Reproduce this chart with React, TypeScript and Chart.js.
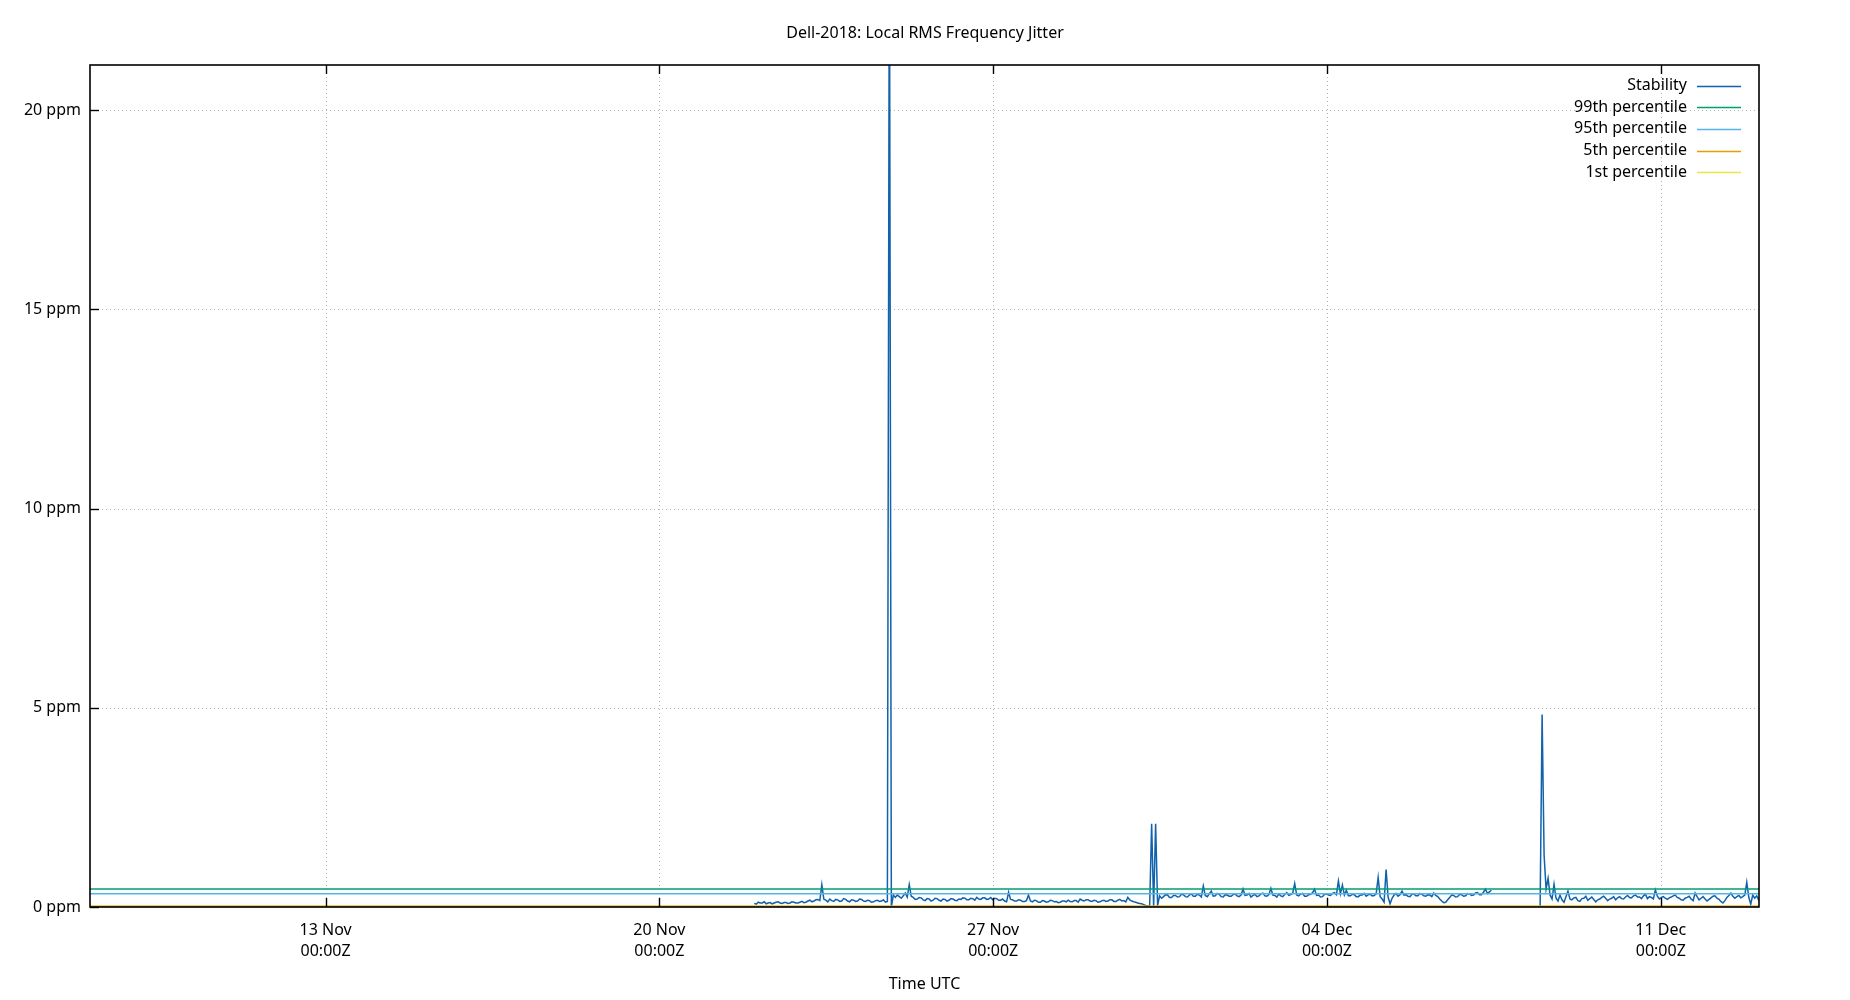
import React, { useEffect, useRef } from "react";
import { Chart, registerables } from "chart.js";

Chart.register(...registerables);

// ---------- data ----------
const DAY_MS = 86400000;
const ORIGIN_MS = Date.UTC(2018, 9, 31); // day 0 = 31 Oct 2018 00:00Z, so day 13 = 13 Nov
const toMs = (d: number) => ORIGIN_MS + d * DAY_MS;

const CHART_TITLE = "Dell-2018: Local RMS Frequency Jitter";
const X_TITLE = "Time UTC";
const MONTHS = ["Jan", "Feb", "Mar", "Apr", "May", "Jun", "Jul", "Aug", "Sep", "Oct", "Nov", "Dec"];

const X_MIN_DAY = 8.06;
const X_MAX_DAY = 43.06;
const X_TICK_DAYS = [13, 20, 27, 34, 41];
const Y_TICKS = [0, 5, 10, 15, 20];
const Y_MAX = 21.13;

// early stretch of near-zero samples
const SEG0_DAYS = [8.06, 9.5, 11, 12.5, 14, 15.5, 17, 18.72];
const SEG0_VALUES = [0, 0, 0, 0, 0, 0, 0, 0];

const SAMPLE_STEP_DAYS = 1 / 24; // hourly samples
const SEG1_START_DAY = 21.99;
const SEG1_VALUES = [
  0.09, 0.07, 0.12, 0.1, 0.1, 0.13, 0.08, 0.1, 0.11, 0.08, 0.1, 0.12,
  0.13, 0.1, 0.09, 0.11, 0.11, 0.09, 0.1, 0.13, 0.12, 0.1, 0.1, 0.12,
  0.14, 0.11, 0.12, 0.15, 0.17, 0.13, 0.15, 0.18, 0.19, 0.16, 0.56, 0.2,
  0.17, 0.13, 0.2, 0.16, 0.14, 0.19, 0.18, 0.14, 0.15, 0.21, 0.19, 0.15,
  0.13, 0.18, 0.17, 0.14, 0.15, 0.2, 0.19, 0.15, 0.14, 0.17, 0.16, 0.12,
  0.13, 0.16, 0.17, 0.14, 0.15, 0.18, 0.12, 0.14, 25, 0.0, 0.3, 0.24,
  0.3, 0.26, 0.22, 0.28, 0.35, 0.25, 0.56, 0.27, 0.24, 0.19, 0.2, 0.24,
  0.23, 0.18, 0.16, 0.21, 0.2, 0.15, 0.17, 0.22, 0.21, 0.17, 0.15, 0.2,
  0.19, 0.15, 0.17, 0.21, 0.2, 0.17, 0.16, 0.2, 0.19, 0.23, 0.22, 0.18,
  0.18, 0.22, 0.21, 0.17, 0.24, 0.2, 0.19, 0.23, 0.23, 0.19, 0.2, 0.24,
  0.18, 0.22, 0.21, 0.17, 0.17, 0.2, 0.15, 0.13, 0.37, 0.19, 0.18, 0.15,
  0.15, 0.18, 0.17, 0.14, 0.14, 0.16, 0.3, 0.15, 0.13, 0.17, 0.16, 0.12,
  0.12, 0.16, 0.15, 0.12, 0.13, 0.17, 0.16, 0.13, 0.14, 0.11, 0.12, 0.15,
  0.15, 0.13, 0.17, 0.14, 0.13, 0.16, 0.16, 0.12, 0.2, 0.17, 0.15, 0.18,
  0.18, 0.15, 0.14, 0.17, 0.16, 0.12, 0.13, 0.16, 0.17, 0.14, 0.15, 0.18,
  0.18, 0.14, 0.14, 0.17, 0.19, 0.15, 0.16, 0.13, 0.24, 0.18, 0.15, 0.13,
  0.12, 0.1, 0.09, 0.08, 0.06, 0.04, 0.03, 0.02, 2.09, 0.0, 2.09, 0.04,
  0.28, 0.22, 0.26, 0.31, 0.3, 0.24, 0.24, 0.29, 0.29, 0.25, 0.26, 0.32,
  0.31, 0.26, 0.25, 0.3, 0.33, 0.27, 0.27, 0.32, 0.3, 0.25, 0.53, 0.29,
  0.26, 0.33, 0.4, 0.27, 0.28, 0.34, 0.32, 0.26, 0.25, 0.31, 0.3, 0.27,
  0.27, 0.31, 0.33, 0.28, 0.26, 0.3, 0.45, 0.29, 0.3, 0.34, 0.25, 0.29,
  0.32, 0.26, 0.28, 0.33, 0.35, 0.28, 0.27, 0.31, 0.47, 0.3, 0.29, 0.25,
  0.33, 0.28, 0.26, 0.32, 0.36, 0.29, 0.31, 0.35, 0.59, 0.3, 0.28, 0.33,
  0.34, 0.27, 0.27, 0.31, 0.32, 0.36, 0.45, 0.29, 0.3, 0.25, 0.26, 0.32,
  0.33, 0.3, 0.29, 0.34, 0.36, 0.31, 0.65, 0.33, 0.55, 0.3, 0.42, 0.28,
  0.28, 0.32, 0.31, 0.26, 0.26, 0.3, 0.3, 0.34, 0.27, 0.31, 0.32, 0.28,
  0.29, 0.33, 0.74, 0.26, 0.2, 0.12, 0.94, 0.25, 0.08, 0.22, 0.3, 0.34,
  0.27, 0.31, 0.4, 0.3, 0.31, 0.27, 0.26, 0.32, 0.33, 0.28, 0.28, 0.34,
  0.32, 0.28, 0.27, 0.31, 0.3, 0.26, 0.35, 0.29, 0.26, 0.2, 0.15, 0.11,
  0.12, 0.18, 0.24, 0.3, 0.29, 0.25, 0.26, 0.32, 0.31, 0.27, 0.28, 0.34,
  0.33, 0.29, 0.3, 0.35, 0.36, 0.31, 0.31, 0.37, 0.45, 0.34, 0.38, 0.42,
];

const SEG2_START_DAY = 38.47;
const SEG2_VALUES = [
  0.0, 4.83, 1.3, 0.45, 0.72, 0.3, 0.2, 0.57, 0.22, 0.15, 0.3, 0.18,
  0.12, 0.26, 0.4, 0.2, 0.18, 0.23, 0.24, 0.16, 0.14, 0.21, 0.22, 0.27,
  0.17, 0.21, 0.25, 0.19, 0.13, 0.18, 0.2, 0.24, 0.27, 0.22, 0.16, 0.2,
  0.22, 0.26, 0.18, 0.23, 0.26, 0.21, 0.2, 0.25, 0.29, 0.24, 0.23, 0.28,
  0.3, 0.25, 0.25, 0.21, 0.28, 0.32, 0.21, 0.26, 0.24, 0.2, 0.43, 0.27,
  0.2, 0.24, 0.26, 0.22, 0.19, 0.23, 0.25, 0.28, 0.3, 0.24, 0.22, 0.18,
  0.17, 0.22, 0.24, 0.27, 0.2, 0.16, 0.35, 0.26, 0.18, 0.22, 0.26, 0.2,
  0.15, 0.19, 0.23, 0.27, 0.28, 0.22, 0.19, 0.14, 0.1, 0.16, 0.24, 0.29,
  0.35, 0.27, 0.22, 0.26, 0.29, 0.23, 0.26, 0.3, 0.62, 0.25, 0.07, 0.3,
  0.22, 0.28, 0.18, 0.31,
];

const SERIES_LABELS = ["Stability", "99th percentile", "95th percentile", "5th percentile", "1st percentile"];
const SERIES_COLORS = ["#0f62ab", "#009e73", "#56b4e9", "#e69f00", "#f0e442"];
const PERCENTILE_VALUES = [0.45, 0.33, 0.02, 0.01]; // 99th, 95th, 5th, 1st

const FONT_FAMILY = "'Noto Sans', 'Open Sans', sans-serif";

// ---------- chart ----------
function buildStability() {
  const pts: { x: number; y: number | null }[] = [];
  SEG0_DAYS.forEach((d, i) => pts.push({ x: toMs(d), y: SEG0_VALUES[i] }));
  pts.push({ x: toMs(20), y: null });
  SEG1_VALUES.forEach((v, i) => pts.push({ x: toMs(SEG1_START_DAY + i * SAMPLE_STEP_DAYS), y: v }));
  pts.push({ x: toMs(38), y: null });
  SEG2_VALUES.forEach((v, i) => pts.push({ x: toMs(SEG2_START_DAY + i * SAMPLE_STEP_DAYS), y: v }));
  return pts;
}

const framePlugin = {
  id: "gnuplotFrame",
  beforeDatasetsDraw(chart: any) {
    const { ctx, chartArea: a, scales } = chart;
    const xs = scales.x;
    const ys = scales.y;
    ctx.save();
    ctx.strokeStyle = "#b4b4b4";
    ctx.lineWidth = 1;
    ctx.setLineDash([1, 3]);
    X_TICK_DAYS.forEach((d) => {
      const px = Math.round(xs.getPixelForValue(toMs(d))) + 0.5;
      ctx.beginPath();
      ctx.moveTo(px, a.top);
      ctx.lineTo(px, a.bottom);
      ctx.stroke();
    });
    Y_TICKS.forEach((v) => {
      const py = Math.round(ys.getPixelForValue(v)) + 0.5;
      ctx.beginPath();
      ctx.moveTo(a.left, py);
      ctx.lineTo(a.right, py);
      ctx.stroke();
    });
    ctx.restore();
  },
  afterDatasetsDraw(chart: any) {
    const { ctx, chartArea: a, scales } = chart;
    const xs = scales.x;
    const ys = scales.y;
    ctx.save();
    ctx.setLineDash([]);
    ctx.strokeStyle = "#000";
    ctx.lineWidth = 1.6;
    ctx.strokeRect(a.left, a.top, a.right - a.left, a.bottom - a.top);
    ctx.lineWidth = 1.4;
    const tl = 9;
    X_TICK_DAYS.forEach((d) => {
      const px = Math.round(xs.getPixelForValue(toMs(d))) + 0.5;
      ctx.beginPath();
      ctx.moveTo(px, a.bottom);
      ctx.lineTo(px, a.bottom - tl);
      ctx.moveTo(px, a.top);
      ctx.lineTo(px, a.top + tl);
      ctx.stroke();
    });
    Y_TICKS.forEach((v) => {
      const py = Math.round(ys.getPixelForValue(v)) + 0.5;
      ctx.beginPath();
      ctx.moveTo(a.left, py);
      ctx.lineTo(a.left + tl, py);
      ctx.stroke();
    });

    // legend (inside, top right)
    const lineEnd = a.right - 18;
    const lineStart = lineEnd - 44;
    const textRight = lineStart - 10;
    const y0 = a.top + 20.5;
    const rowH = 21.7;
    ctx.font = `16px ${FONT_FAMILY}`;
    ctx.textAlign = "right";
    ctx.textBaseline = "middle";
    SERIES_LABELS.forEach((label, i) => {
      const yy = y0 + i * rowH;
      ctx.fillStyle = "#000";
      ctx.fillText(label, textRight, yy);
      ctx.strokeStyle = SERIES_COLORS[i];
      ctx.lineWidth = 1.5;
      ctx.beginPath();
      ctx.moveTo(lineStart, Math.round(yy) + 0.5);
      ctx.lineTo(lineEnd, Math.round(yy) + 0.5);
      ctx.stroke();
    });
    ctx.restore();
  },
};

export default function App() {
  const canvasRef = useRef<HTMLCanvasElement | null>(null);

  useEffect(() => {
    const canvas = canvasRef.current;
    if (!canvas) return;

    const percentileSets = PERCENTILE_VALUES.map((p, i) => ({
      label: SERIES_LABELS[i + 1],
      data: [
        { x: toMs(X_MIN_DAY), y: p },
        { x: toMs(X_MAX_DAY), y: p },
      ],
      borderColor: SERIES_COLORS[i + 1],
      borderWidth: 1.5,
      pointRadius: 0,
      tension: 0,
      order: i + 1,
    }));

    const chart = new Chart(canvas, {
      type: "line",
      data: {
        datasets: [
          {
            label: SERIES_LABELS[0],
            data: buildStability(),
            borderColor: SERIES_COLORS[0],
            borderWidth: 1.5,
            pointRadius: 0,
            tension: 0,
            spanGaps: false,
            order: 10,
          },
          ...percentileSets,
        ] as any,
      },
      options: {
        responsive: false,
        animation: false,
        events: [],
        layout: { padding: { left: 0, right: 0, top: 0, bottom: 0 } },
        plugins: {
          legend: { display: false },
          tooltip: { enabled: false },
          title: {
            display: true,
            text: CHART_TITLE,
            color: "#000",
            font: { family: FONT_FAMILY, size: 16, weight: "normal", lineHeight: 1.2 },
            padding: { top: 23.4, bottom: 22.4 },
          },
        },
        scales: {
          x: {
            type: "linear",
            min: toMs(X_MIN_DAY),
            max: toMs(X_MAX_DAY),
            afterBuildTicks: (s: any) => {
              s.ticks = X_TICK_DAYS.map((d) => ({ value: toMs(d) }));
            },
            afterFit: (s: any) => {
              s.height = 93;
            },
            grid: { display: false, drawTicks: false },
            border: { display: false },
            ticks: {
              color: "#000",
              autoSkip: false,
              maxRotation: 0,
              padding: 12.5,
              font: { family: FONT_FAMILY, size: 16, lineHeight: 1.3125 },
              callback: (value: any) => {
                const dt = new Date(Number(value));
                const dd = String(dt.getUTCDate()).padStart(2, "0");
                return [`${dd} ${MONTHS[dt.getUTCMonth()]}`, "00:00Z"];
              },
            },
            title: {
              display: true,
              text: X_TITLE,
              color: "#000",
              font: { family: FONT_FAMILY, size: 16, lineHeight: 1.2 },
              padding: { top: 0, bottom: 6.4 },
            },
          },
          y: {
            type: "linear",
            position: "left",
            min: 0,
            max: Y_MAX,
            afterBuildTicks: (s: any) => {
              s.ticks = Y_TICKS.map((v) => ({ value: v }));
            },
            afterFit: (s: any) => {
              s.width = 90;
            },
            grid: { display: false, drawTicks: false },
            border: { display: false },
            ticks: {
              color: "#000",
              padding: 9,
              font: { family: FONT_FAMILY, size: 16 },
              callback: (value: any) => `${value} ppm`,
            },
          },
          yRightSpace: {
            type: "linear",
            position: "right",
            min: 0,
            max: Y_MAX,
            afterFit: (s: any) => {
              s.width = 91;
            },
            grid: { display: false, drawTicks: false },
            border: { display: false },
            ticks: { display: false },
          },
        },
      } as any,
      plugins: [framePlugin as any],
    });

    return () => chart.destroy();
  }, []);

  return (
    <div style={{ position: "absolute", left: 0, top: 0, width: 1850, height: 1000, background: "#fff" }}>
      <canvas ref={canvasRef} width={1850} height={1000} style={{ display: "block" }} />
    </div>
  );
}
